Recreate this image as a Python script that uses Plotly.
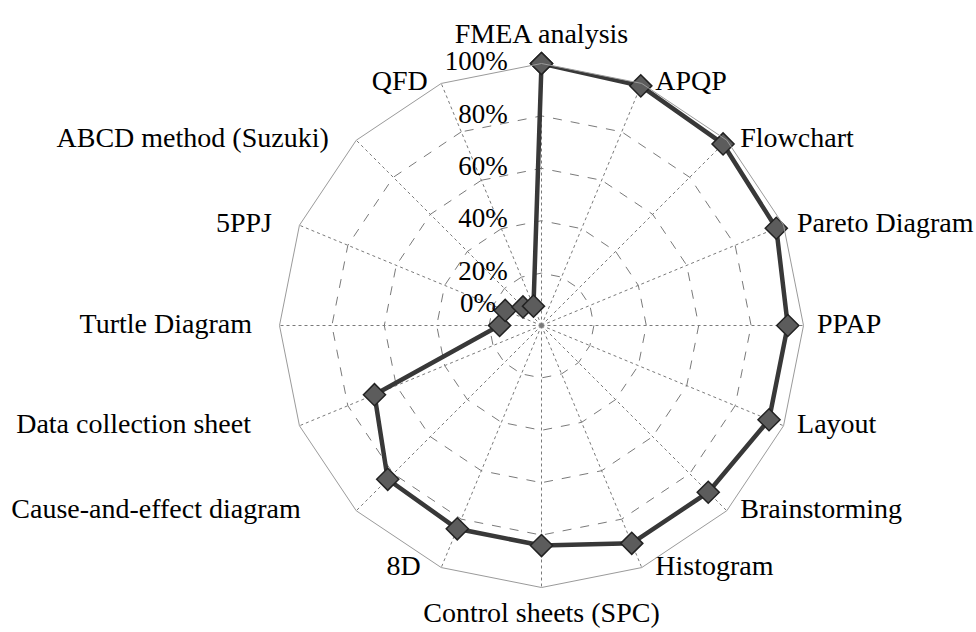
import plotly.graph_objects as go

categories = ["FMEA analysis", "APQP", "Flowchart", "Pareto Diagram", "PPAP", "Layout",
              "Brainstorming", "Histogram", "Control sheets (SPC)", "8D",
              "Cause-and-effect diagram", "Data collection sheet", "Turtle Diagram",
              "5PPJ", "ABCD method (Suzuki)", "QFD"]
values = [100, 99, 98, 97, 94, 94, 90, 90, 84, 84, 83, 69, 16, 15, 10, 8]
tick_vals = [0, 20, 40, 60, 80, 100]
tick_text = ["0%", "20%", "40%", "60%", "80%", "100%"]

FONT = "Liberation Serif, Times New Roman, serif"
NB = "\u00a0"

# ---- label placement (layout only) ----
label_pos = (["top center"] + ["middle right"] * 7 + ["bottom center"] + ["middle left"] * 7)
label_pad = [0, 0, 0, 0, 0, 0, 0, 0, 0, 1, 6, 5, 2, 2, 2, 0]
label_text = [c + NB * p if pos == "middle left" else c
              for c, p, pos in zip(categories, label_pad, label_pos)]
tick_pad = [4, 5, 5, 5, 5, 5]
tick_label = [t + NB * p for t, p in zip(tick_text, tick_pad)]

fig = go.Figure()
fig.add_trace(go.Scatterpolar(
    r=values + values[:1],
    theta=categories + categories[:1],
    mode="lines+markers",
    line=dict(color="#383838", width=4.5),
    marker=dict(symbol="diamond", size=17, color="#5c5c5c",
                line=dict(color="#222222", width=1.5)),
    showlegend=False, hoverinfo="skip",
))
# category labels just outside the outer ring
fig.add_trace(go.Scatterpolar(
    r=[tick_vals[-1]] * len(categories),
    theta=categories,
    mode="markers+text",
    text=label_text,
    textposition=label_pos,
    textfont=dict(family=FONT, size=28, color="black"),
    marker=dict(size=20, opacity=0),
    cliponaxis=False, showlegend=False, hoverinfo="skip",
))
# radial tick labels 20%..100% beside the first spoke
fig.add_trace(go.Scatterpolar(
    r=tick_vals[1:],
    theta=[categories[0]] * (len(tick_vals) - 1),
    mode="text",
    text=tick_label[1:],
    textposition="middle left",
    textfont=dict(family=FONT, size=27, color="black"),
    cliponaxis=False, showlegend=False, hoverinfo="skip",
))
# the 0% label sits just below the 20% label (as in the original, lifted off the centre)
fig.add_trace(go.Scatterpolar(
    r=tick_vals[1:2],
    theta=[categories[0]],
    mode="markers+text",
    text=tick_label[:1],
    textposition="bottom left",
    marker=dict(size=28, opacity=0),
    textfont=dict(family=FONT, size=27, color="black"),
    cliponaxis=False, showlegend=False, hoverinfo="skip",
))

cx, cy, R = 541.5, 325.5, 262
W, H = 976, 632
fig.update_layout(
    width=W, height=H,
    margin=dict(l=0, r=0, t=0, b=0),
    paper_bgcolor="white",
    plot_bgcolor="white",
    font=dict(family=FONT, size=28, color="black"),
    polar=dict(
        domain=dict(x=[(cx - R) / W, (cx + R) / W],
                    y=[(H - cy - R) / H, (H - cy + R) / H]),
        bgcolor="white",
        gridshape="linear",
        radialaxis=dict(
            range=[0, 100],
            tickvals=tick_vals,
            showticklabels=False,
            angle=90,
            showline=False,
            ticks="",
            gridcolor="#7a7a7a",
            griddash="dash",
            gridwidth=1,
        ),
        angularaxis=dict(
            categoryorder="array",
            categoryarray=categories,
            direction="clockwise",
            rotation=90,
            showticklabels=False,
            gridcolor="#7a7a7a",
            griddash="dot",
            gridwidth=1,
            showline=True,
            linecolor="#9a9a9a",
            linewidth=1,
            ticks="",
        ),
    ),
)

fig.write_html("out.html", config={"displayModeBar": False},
               post_script="document.body.style.margin='0px';")
